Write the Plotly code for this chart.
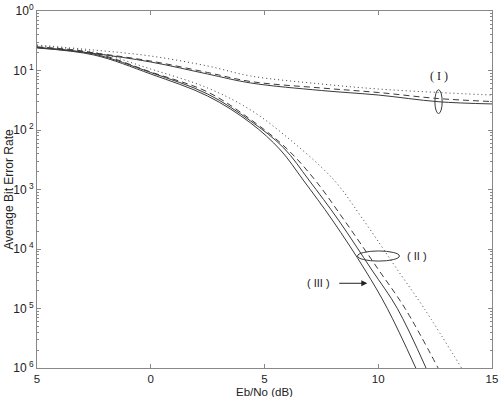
import plotly.graph_objects as go

# ---- data (Eb/No in dB, BER) ----
# Group (I): flat curves
i_x = [-5, -2.5, 0, 2.5, 4.39, 7.5, 10, 12.63, 15]
i_solid = [0.244, 0.193, 0.139, 0.0873, 0.0617, 0.0461, 0.0387, 0.0299, 0.0274]
i_dash = [0.248, 0.197, 0.144, 0.0925, 0.0653, 0.0508, 0.0427, 0.0338, 0.0301]
i_dot = [0.268, 0.221, 0.175, 0.119, 0.0809, 0.0593, 0.0489, 0.0427, 0.0387]

# Group (II)/(III): waterfall curves
a_x = [-5, -2.5, 0, 2.5, 4.39, 5.70, 6.70, 7.98, 9.42, 10.40, 11.65]
a_y = [0.2388, 0.1824, 0.0873, 0.03724, 0.01312, 0.004613, 0.001445, 0.0003069, 4.436e-5, 1e-5, 1e-6]

b_x = [-5, -2.5, 0, 2.5, 4.39, 5.85, 6.95, 8.25, 9.72, 10.84, 12.10]
b_y = [0.2438, 0.1892, 0.09247, 0.04027, 0.01416, 0.004977, 0.001445, 0.0003069, 4.436e-5, 1e-5, 1e-6]

c_x = [-5, -2.5, 0, 2.5, 4.39, 5.95, 7.22, 8.50, 10.02, 11.18, 12.63]
c_y = [0.2483, 0.1968, 0.0944, 0.04355, 0.0150, 0.004977, 0.001445, 0.0003069, 4.436e-5, 1e-5, 1e-6]

d_x = [-5, -2.5, 0, 2.5, 4.39, 6.14, 8.05, 9.35, 10.85, 12.02, 13.66]
d_y = [0.2582, 0.2046, 0.1059, 0.0508, 0.02168, 0.006792, 0.001445, 0.0003069, 4.436e-5, 1e-5, 1e-6]

x_tickvals = [-5, 0, 5, 10, 15]
x_ticktext = ["5", "0", "5", "10", "15"]
y_tickvals = [1, 1e-1, 1e-2, 1e-3, 1e-4, 1e-5, 1e-6]
y_ticktext = ["10<sup>0</sup>", "10<sup> 1</sup>", "10<sup> 2</sup>", "10<sup> 3</sup>",
              "10<sup> 4</sup>", "10<sup> 5</sup>", "10<sup> 6</sup>"]

LC = "#3a3a3a"
TC = "#222"
FONT = "Liberation Sans, Arial, sans-serif"

fig = go.Figure()

def add(x, y, dash):
    fig.add_trace(go.Scatter(x=x, y=y, mode="lines",
                             line=dict(color=LC, width=1, dash=dash, shape="spline", smoothing=1.0),
                             showlegend=False, hoverinfo="skip"))

add(i_x, i_solid, "solid")
add(i_x, i_dash, "6px,4px")
add(i_x, i_dot, "1px,3px")
add(a_x, a_y, "solid")
add(b_x, b_y, "solid")
add(c_x, c_y, "6px,4px")
add(d_x, d_y, "1px,3px")

def py(logv):
    # paper fraction for a log10 value on the [-6, 0] axis
    return (logv + 6.0) / 6.0

# ellipse (I)
fig.add_shape(type="circle", xref="x", yref="paper", x0=12.65 - 0.16, x1=12.65 + 0.16,
              y0=py(-1.524 - 0.2), y1=py(-1.524 + 0.2), line=dict(color=LC, width=1))
# ellipse (II)
fig.add_shape(type="circle", xref="x", yref="paper", x0=10.01 - 0.92, x1=10.01 + 0.92,
              y0=py(-4.118 - 0.085), y1=py(-4.118 + 0.085), line=dict(color=LC, width=1))

fig.add_annotation(x=12.65, y=-1.092, text="( I )", showarrow=False,
                   font=dict(family="Liberation Serif, Times New Roman, serif", size=12, color=TC))
fig.add_annotation(x=11.72, y=-4.118, text="( II )", showarrow=False, font=dict(family=FONT, size=11, color=TC))
fig.add_annotation(x=7.36, y=-4.576, text="( III )", showarrow=False, font=dict(family=FONT, size=11, color=TC))
fig.add_annotation(x=9.52, y=-4.576, ax=8.22, ay=-4.576, axref="x", ayref="y", xref="x", yref="y",
                   text="", showarrow=True, arrowhead=2, arrowsize=1.2, arrowwidth=1, arrowcolor=TC)

# axis titles
fig.add_annotation(xref="paper", yref="paper", x=0.5, y=-0.066, text="Eb/No (dB)", showarrow=False,
                   yanchor="middle", font=dict(family=FONT, size=11.5, color=TC))
fig.add_annotation(xref="paper", yref="paper", x=-0.063, y=0.5, text="Average Bit Error Rate", showarrow=False,
                   textangle=-90, xanchor="center", yanchor="middle", font=dict(family=FONT, size=12, color=TC))

axis_common = dict(showgrid=False, zeroline=False, showline=True, linecolor="#888", linewidth=1,
                   mirror="ticks", ticks="inside", tickcolor="#888", ticklen=4, automargin=False)

fig.update_xaxes(range=[-5, 15], tickvals=x_tickvals, ticktext=x_ticktext,
                 tickfont=dict(family=FONT, size=11.5, color=TC), **axis_common)
fig.update_yaxes(type="log", range=[-6, 0], tickvals=y_tickvals, ticktext=y_ticktext,
                 minor=dict(ticks="inside", ticklen=2, tickcolor="#888", dtick="D1"),
                 tickfont=dict(family=FONT, size=12, color=TC), **axis_common)

fig.update_layout(width=500, height=397, margin=dict(l=37, r=8, t=11, b=29),
                  plot_bgcolor="white", paper_bgcolor="white", font=dict(family=FONT))

fig.write_html("out.html", config={"displayModeBar": False},
               post_script="document.body.style.margin='0';document.body.style.overflow='hidden';")
